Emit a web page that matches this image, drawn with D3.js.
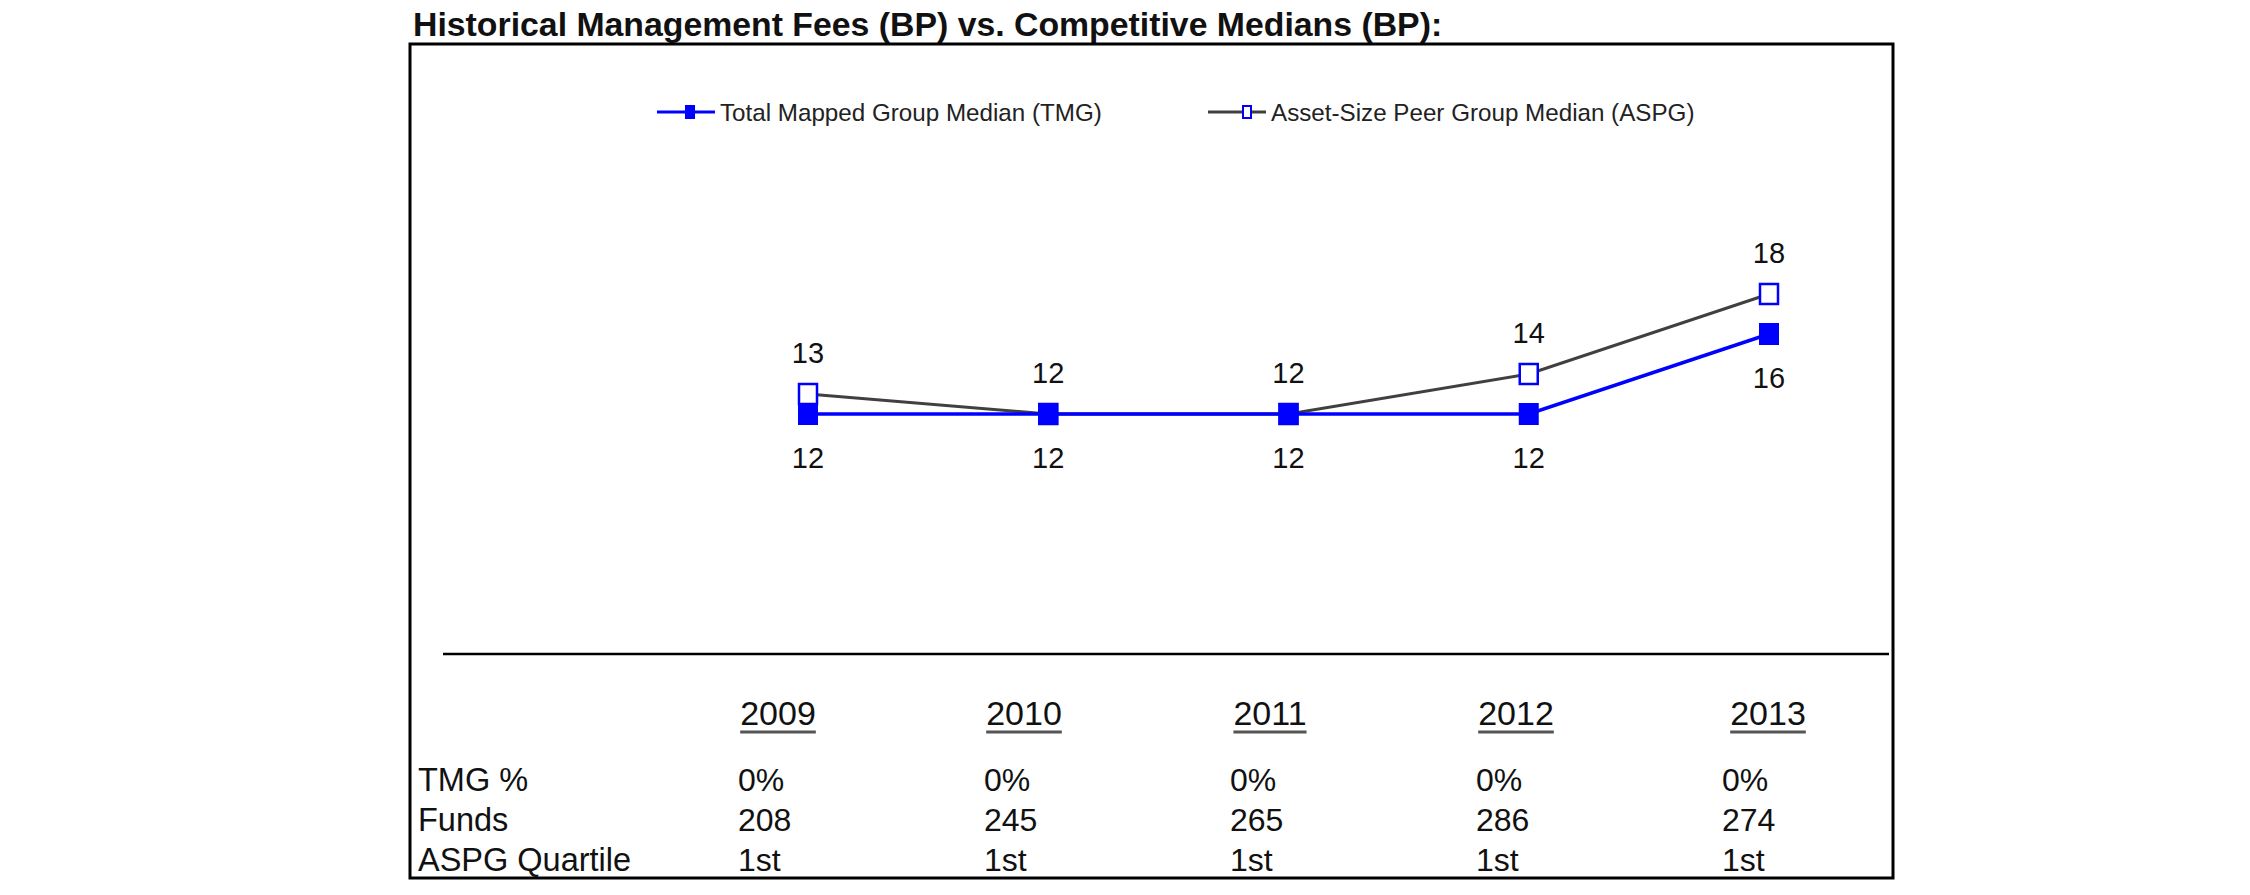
<!DOCTYPE html>
<html><head><meta charset="utf-8">
<script src="https://cdn.jsdelivr.net/npm/d3@7"></script>
<style>body{margin:0;background:#fff;}svg{display:block;font-family:"Liberation Sans",Arial,sans-serif;}</style>
</head><body>
<svg id="chart" width="2250" height="895"></svg>
<script>
const years = ["2009","2010","2011","2012","2013"];
const tmgValues = [12, 12, 12, 12, 16];
const aspgValues = [13, 12, 12, 14, 18];
const seriesNames = ["Total Mapped Group Median (TMG)", "Asset-Size Peer Group Median (ASPG)"];
const tmgPct = ["0%","0%","0%","0%","0%"];
const funds = ["208","245","265","286","274"];
const aspgQuartile = ["1st","1st","1st","1st","1st"];
const rowLabels = ["TMG %","Funds","ASPG Quartile"];
const title = "Historical Management Fees (BP) vs. Competitive Medians (BP):";

const svg = d3.select("#chart");
const blue = "#0000ff", gray = "#404040";

// frame
svg.append("text").attr("x", 413).attr("y", 36).attr("font-weight", "bold")
  .attr("font-size", 33.8).attr("fill", "#111").text(title);
svg.append("rect").attr("x", 410).attr("y", 44).attr("width", 1483).attr("height", 834)
  .attr("fill", "none").attr("stroke", "#000").attr("stroke-width", 3);

const x = d3.scalePoint().domain(years).range([808, 1769]);
const y = d3.scaleLinear().domain([0, 25]).range([654, 154]);

// baseline axis
svg.append("line").attr("x1", 443).attr("x2", 1889).attr("y1", y(0)).attr("y2", y(0))
  .attr("stroke", "#000").attr("stroke-width", 2.5);

const line = d3.line().x((d, i) => x(years[i])).y(d => y(d));
svg.append("path").datum(aspgValues).attr("d", line).attr("fill", "none")
  .attr("stroke", gray).attr("stroke-width", 3);
svg.selectAll(".aspgm").data(aspgValues).join("rect")
  .attr("x", (d, i) => x(years[i]) - 9).attr("y", d => y(d) - 10)
  .attr("width", 18).attr("height", 20).attr("fill", "#fff")
  .attr("stroke", blue).attr("stroke-width", 2.5);

svg.append("path").datum(tmgValues).attr("d", line).attr("fill", "none")
  .attr("stroke", blue).attr("stroke-width", 3.5);
svg.selectAll(".tmgm").data(tmgValues).join("rect")
  .attr("x", (d, i) => x(years[i]) - 10).attr("y", d => y(d) - 11)
  .attr("width", 20).attr("height", 22).attr("fill", blue);

// data labels
svg.selectAll(".aspgl").data(aspgValues).join("text")
  .attr("x", (d, i) => x(years[i])).attr("y", d => y(d) - 41)
  .attr("text-anchor", "middle").attr("dominant-baseline", "central")
  .attr("font-size", 29).attr("fill", "#111").text(d => d);
svg.selectAll(".tmgl").data(tmgValues).join("text")
  .attr("x", (d, i) => x(years[i])).attr("y", d => y(d) + 44)
  .attr("text-anchor", "middle").attr("dominant-baseline", "central")
  .attr("font-size", 29).attr("fill", "#111").text(d => d);

// legend
const lg = svg.append("g");
lg.append("line").attr("x1", 657).attr("x2", 715).attr("y1", 112).attr("y2", 112)
  .attr("stroke", blue).attr("stroke-width", 3);
lg.append("rect").attr("x", 685).attr("y", 105).attr("width", 10).attr("height", 14).attr("fill", blue);
lg.append("text").attr("x", 720).attr("y", 112).attr("dominant-baseline", "central")
  .attr("font-size", 24.2).attr("fill", "#222").text(seriesNames[0]);
lg.append("line").attr("x1", 1208).attr("x2", 1266).attr("y1", 112).attr("y2", 112)
  .attr("stroke", gray).attr("stroke-width", 3);
lg.append("rect").attr("x", 1243).attr("y", 106).attr("width", 8).attr("height", 12)
  .attr("fill", "#fff").attr("stroke", blue).attr("stroke-width", 2);
lg.append("text").attr("x", 1271).attr("y", 112).attr("dominant-baseline", "central")
  .attr("font-size", 24.2).attr("fill", "#222").text(seriesNames[1]);

// table
const col = d3.scalePoint().domain(years).range([738, 1722]);
const hdrX = d3.scalePoint().domain(years).range([778, 1768]);
const hdr = svg.selectAll(".hdr").data(years).join("text")
  .attr("x", (d, i) => i < 4 ? col(d) + 40 : hdrX(d)).attr("y", 725).attr("text-anchor", "middle")
  .attr("font-size", 34).attr("fill", "#111").text(d => d);
hdr.each(function(d) {
  const bb = this.getBBox();
  svg.append("line").attr("x1", bb.x).attr("x2", bb.x + bb.width).attr("y1", 732).attr("y2", 732)
    .attr("stroke", "#555").attr("stroke-width", 3);
});
const rows = [tmgPct, funds, aspgQuartile];
const rowY = d3.scalePoint().domain(rowLabels).range([791, 871]);
rowLabels.forEach((lab, r) => {
  svg.append("text").attr("x", 418).attr("y", rowY(lab)).attr("font-size", 32.5)
    .attr("fill", "#111").text(lab);
  svg.selectAll(".row" + r).data(rows[r]).join("text")
    .attr("x", (d, i) => col(years[i])).attr("y", rowY(lab))
    .attr("font-size", 32).attr("fill", "#111").text(d => d);
});
</script>
</body></html>
